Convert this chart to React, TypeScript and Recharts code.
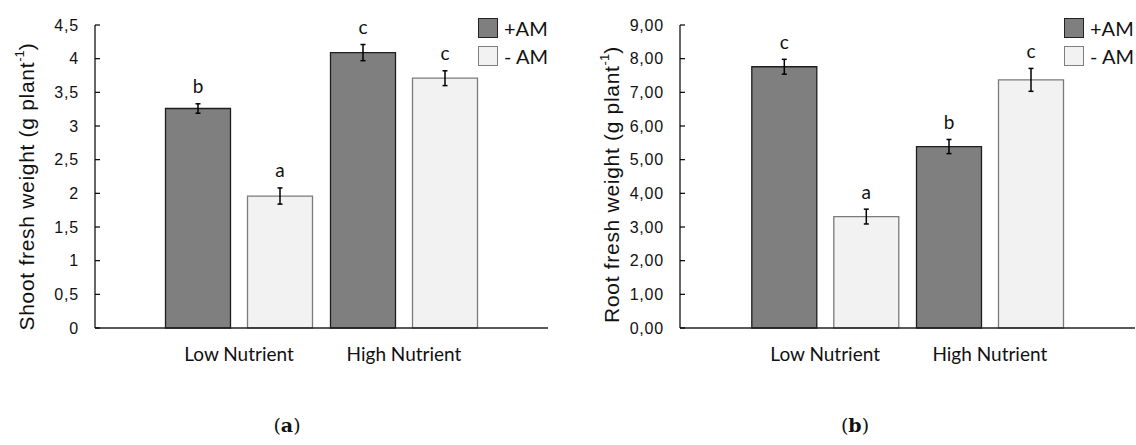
import React from "react";
import { BarChart, Bar, XAxis, YAxis, ErrorBar, LabelList } from "recharts";

const categories = ["Low Nutrient", "High Nutrient"];

// (a) shoot fresh weight
const shootPlus = [3.26, 4.09];
const shootPlusErr = [0.07, 0.12];
const shootPlusSig = ["b", "c"];
const shootMinus = [1.96, 3.71];
const shootMinusErr = [0.12, 0.11];
const shootMinusSig = ["a", "c"];
const shootTicks = [0, 0.5, 1, 1.5, 2, 2.5, 3, 3.5, 4, 4.5];

// (b) root fresh weight
const rootPlus = [7.76, 5.39];
const rootPlusErr = [0.22, 0.21];
const rootPlusSig = ["c", "b"];
const rootMinus = [3.31, 7.37];
const rootMinusErr = [0.22, 0.34];
const rootMinusSig = ["a", "c"];
const rootTicks = [0, 1, 2, 3, 4, 5, 6, 7, 8, 9];

const DARK = "#7f7f7f";
const LIGHT = "#f2f2f2";
const CALIBRI = "Lato, 'Open Sans', sans-serif";
const ARIAL = "'Liberation Sans', Arial, sans-serif";

const buildRows = (p: number[], pe: number[], ps: string[], m: number[], me: number[], ms: string[]) =>
  categories.map((name, i) => ({
    name,
    plus: p[i],
    plusErr: pe[i],
    plusSig: ps[i],
    minus: m[i],
    minusErr: me[i],
    minusSig: ms[i],
  }));

const shootData = buildRows(shootPlus, shootPlusErr, shootPlusSig, shootMinus, shootMinusErr, shootMinusSig);
const rootData = buildRows(rootPlus, rootPlusErr, rootPlusSig, rootMinus, rootMinusErr, rootMinusSig);

const YTick = (props: any) => {
  const { x, y, payload, fmt } = props;
  return (
    <g>
      <line x1={x} x2={x + 5} y1={y} y2={y} stroke="#000" strokeWidth={1.2} />
      <text
        x={x - 16}
        y={y}
        textAnchor="end"
        dominantBaseline="central"
        fontFamily={ARIAL}
        fontSize={16}
        letterSpacing={0.8}
        fill="#111"
      >
        {fmt(payload.value)}
      </text>
    </g>
  );
};

const XTick = (props: any) => {
  const { x, y, payload } = props;
  return (
    <text x={x} y={y + 33} textAnchor="middle" fontFamily={CALIBRI} fontSize={19} fill="#111">
      {payload.value}
    </text>
  );
};

// significance letter sitting above the error bar
const makeSig = (vals: number[], errs: number[]) => (props: any) => {
  const { x, y, width, height, value, index } = props;
  const pxPerUnit = height / vals[index];
  const top = y - errs[index] * pxPerUnit;
  return (
    <text
      x={x + width / 2}
      y={top - 18}
      textAnchor="middle"
      dominantBaseline="central"
      fontFamily={CALIBRI}
      fontSize={19}
      fill="#111"
    >
      {value}
    </text>
  );
};

const YTitle = (cx: number, dyc: number) => (props: any) => {
  const { viewBox } = props;
  const x = viewBox.x + cx;
  const y = viewBox.y + viewBox.height / 2 + dyc;
  return (
    <text
      x={x}
      y={y}
      transform={`rotate(-90, ${x}, ${y})`}
      textAnchor="middle"
      dominantBaseline="central"
      fontFamily={ARIAL}
      fontSize={21}
      letterSpacing={0.7}
      fill="#111"
    >
      {props.text}
      <tspan dy={-7} fontSize={13} letterSpacing={0}>-1</tspan>
      <tspan dy={7}>)</tspan>
    </text>
  );
};

function Legend({ left, top }: { left: number; top: number }) {
  const item = (fill: string, stroke: string, label: string, t: number) => (
    <div style={{ position: "absolute", left, top: t, display: "flex", alignItems: "center", height: 20 }}>
      <div style={{ width: 18, height: 18, background: fill, border: `1.5px solid ${stroke}` }} />
      <span style={{ marginLeft: 6, fontFamily: CALIBRI, fontSize: 20, color: "#111", lineHeight: "20px" }}>
        {label}
      </span>
    </div>
  );
  return (
    <>
      {item(DARK, "#222", "+AM", top)}
      {item(LIGHT, "#7f7f7f", "- AM", top + 28)}
    </>
  );
}

function Panel(props: {
  data: any[];
  width: number;
  axisWidth: number;
  marginRight: number;
  pad: number;
  max: number;
  ticks: number[];
  fmt: (v: number) => string;
  title: string;
  titleX: number;
  titleDy: number;
  plusVals: number[];
  plusErr: number[];
  minusVals: number[];
  minusErr: number[];
}) {
  return (
    <BarChart
      width={props.width}
      height={445}
      data={props.data}
      margin={{ top: 25, right: props.marginRight, bottom: 77, left: 0 }}
      barSize={65}
      barGap={17}
    >
      <XAxis
        dataKey="name"
        axisLine={{ stroke: "#222", strokeWidth: 1.5 }}
        tickLine={false}
        tickSize={0}
        tickMargin={0}
        height={40}
        padding={{ left: props.pad, right: props.pad }}
        tick={<XTick />}
      />
      <YAxis
        width={props.axisWidth}
        domain={[0, props.max]}
        ticks={props.ticks}
        interval={0}
        axisLine={{ stroke: "#000", strokeWidth: 1.2 }}
        tickLine={false}
        tickSize={0}
        tickMargin={0}
        tick={<YTick fmt={props.fmt} />}
        label={{ content: YTitle(props.titleX, props.titleDy), text: props.title } as any}
      />
      <Bar dataKey="plus" fill={DARK} stroke="#1e1e1e" strokeWidth={1.3} isAnimationActive={false}>
        <ErrorBar dataKey="plusErr" width={2.5} stroke="#000" strokeWidth={1.5} direction="y" />
        <LabelList dataKey="plusSig" content={makeSig(props.plusVals, props.plusErr)} />
      </Bar>
      <Bar dataKey="minus" fill={LIGHT} stroke="#7a7a7a" strokeWidth={1.3} isAnimationActive={false}>
        <ErrorBar dataKey="minusErr" width={2.5} stroke="#000" strokeWidth={1.5} direction="y" />
        <LabelList dataKey="minusSig" content={makeSig(props.minusVals, props.minusErr)} />
      </Bar>
    </BarChart>
  );
}

export default function App() {
  return (
    <div style={{ position: "fixed", left: 0, top: 0, width: 1136, height: 445, background: "#fff", overflow: "hidden" }}>
      <div style={{ position: "absolute", left: 0, top: 0 }}>
        <Panel
          data={shootData}
          width={560}
          axisWidth={95}
          marginRight={12}
          pad={61.5}
          max={4.5}
          ticks={shootTicks}
          fmt={(v) => String(v).replace(".", ",")}
          title="Shoot fresh weight (g plant"
          titleX={26}
          titleDy={10}
          plusVals={shootPlus}
          plusErr={shootPlusErr}
          minusVals={shootMinus}
          minusErr={shootMinusErr}
        />
      </div>
      <div style={{ position: "absolute", left: 568, top: 0 }}>
        <Panel
          data={rootData}
          width={568}
          axisWidth={112}
          marginRight={1}
          pad={62.8}
          max={9}
          ticks={rootTicks}
          fmt={(v) => v.toFixed(2).replace(".", ",")}
          title="Root fresh weight (g plant"
          titleX={43}
          titleDy={8}
          plusVals={rootPlus}
          plusErr={rootPlusErr}
          minusVals={rootMinus}
          minusErr={rootMinusErr}
        />
      </div>
      <Legend left={478} top={18} />
      <Legend left={1064} top={18} />
      <div style={{ position: "absolute", left: 267, top: 414, width: 40, textAlign: "center", fontFamily: "'DejaVu Serif', 'Liberation Serif', serif", fontSize: 19, color: "#111" }}>
        (<b>a</b>)
      </div>
      <div style={{ position: "absolute", left: 835, top: 414, width: 40, textAlign: "center", fontFamily: "'DejaVu Serif', 'Liberation Serif', serif", fontSize: 19, color: "#111" }}>
        (<b>b</b>)
      </div>
    </div>
  );
}
